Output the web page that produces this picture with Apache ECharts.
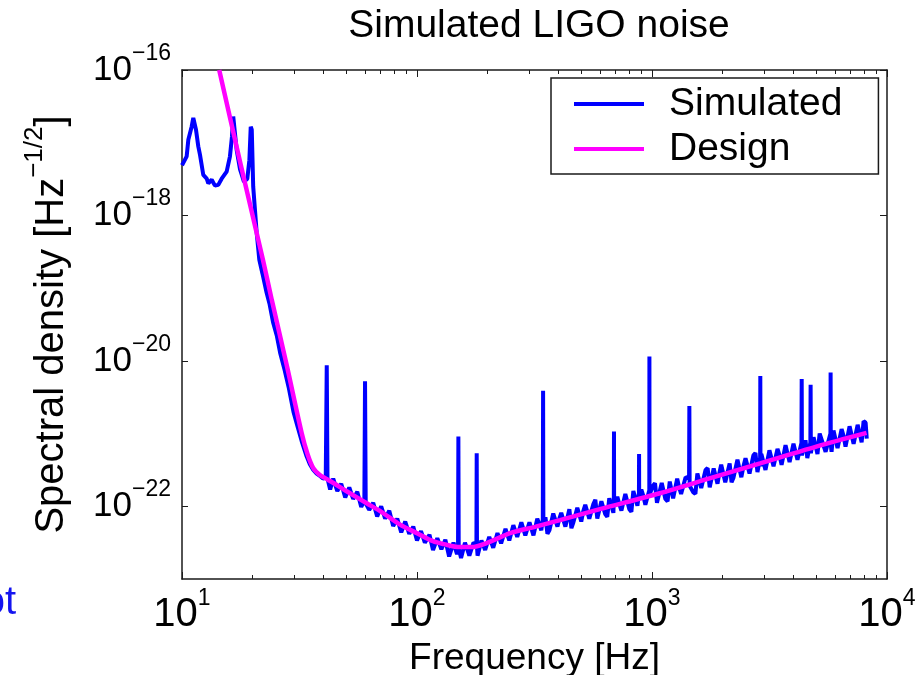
<!DOCTYPE html>
<html>
<head>
<meta charset="utf-8">
<title>Simulated LIGO noise</title>
<script src="https://cdn.jsdelivr.net/npm/echarts@6/dist/echarts.min.js"></script>
<style>
  html, body { margin: 0; padding: 0; background: #fff; }
  #chart { width: 921px; height: 675px; }
</style>
</head>
<body>
<div id="chart"></div>
<script>
// ---- data: [frequency Hz, amplitude Hz^-1/2] ----

// design sensitivity curve
var design = [
  [14.4, 1.0e-16], [17.8, 4.9e-18], [22.1, 2.45e-19], [24.1, 6.9e-20], [28.0, 8.3e-21], [32.3, 1.02e-21],
  [34.2, 5.25e-22], [36.2, 3.35e-22], [38.6, 2.69e-22], [41.0, 2.4e-22], [44.1, 2.09e-22], [50, 1.62e-22],
  [61.1, 1.10e-22], [70, 8.5e-23], [84.7, 5.6e-23], [100, 4.27e-23], [117, 3.31e-23], [130, 3.02e-23],
  [152, 2.75e-23], [170, 2.75e-23], [200, 3.16e-23], [249, 4.27e-23], [320, 5.25e-23], [406, 6.46e-23],
  [600, 9.12e-23], [1081, 1.51e-22], [1700, 2.34e-22], [2885, 3.89e-22], [5000, 6.61e-22], [8185, 1.02e-21]
];

// simulated noise: low end bumps, steep wall
var simulatedLow = [
  [10.0, 4.9e-18], [10.47, 6.5e-18], [10.64, 1.10e-17], [10.99, 1.66e-17], [11.17, 2.19e-17], [11.47, 1.51e-17],
  [11.73, 8.9e-18], [11.93, 6.8e-18], [12.32, 3.6e-18], [12.74, 3.2e-18], [12.94, 2.75e-18], [13.38, 3.1e-18],
  [13.81, 2.57e-18], [14.27, 2.63e-18], [14.75, 3.2e-18], [15.49, 4.0e-18], [16.00, 6.5e-18], [16.31, 1.20e-17],
  [16.52, 2.29e-17], [16.80, 2.19e-17], [17.09, 7.9e-18], [17.66, 4.3e-18], [18.36, 2.9e-18], [18.96, 3.2e-18],
  [19.35, 5.75e-18], [19.61, 1.66e-17], [19.81, 1.51e-17], [20.09, 2.5e-18], [20.79, 5.75e-19], [21.33, 2.45e-19],
  [22.0, 1.58e-19], [22.9, 8.7e-20], [23.6, 6.0e-20], [24.4, 3.4e-20], [25.3, 2.24e-20], [26.2, 1.26e-20],
  [27.3, 7.6e-21], [28.5, 4.2e-21], [29.8, 2.0e-21], [31.0, 1.26e-21], [32.3, 7.9e-22], [33.8, 5.0e-22],
  [35.0, 3.8e-22], [36.2, 3.16e-22], [37.4, 2.82e-22], [38.6, 2.63e-22], [39.8, 2.4e-22]
];

// simulated noise: floor with line spikes
var simulatedFloor = [
  [40.9, 2.5e-22], [41.3, 8.7e-21], [41.6, 2.4e-22], [42.7, 1.7e-22],
  [44, 2.40e-22], [45.8, 1.62e-22], [47.6, 2.04e-22], [49.5, 1.32e-22], [51.5, 1.82e-22], [53.5, 1.26e-22],
  [55.7, 1.58e-22], [57.9, 9.8e-23], [59.7, 1.20e-22], [60.1, 5.25e-21], [60.5, 1.10e-22], [62.6, 8.91e-23],
  [65.1, 1.12e-22], [67.7, 7.24e-23], [70.4, 1.00e-22], [73.2, 6.76e-23], [76.2, 8.71e-23], [79.2, 5.37e-23],
  [82.4, 6.76e-23], [85.7, 4.37e-23], [89.1, 6.17e-23], [92.7, 4.17e-23], [96.4, 5.25e-23], [100, 3.39e-23],
  [104, 4.57e-23], [108, 3.16e-23], [113, 4.07e-23], [117, 2.51e-23], [122, 3.63e-23], [127, 2.57e-23],
  [132, 3.47e-23], [137, 2.04e-23], [143, 3.16e-23], [148, 2.19e-23], [149.5, 2.88e-23], [150, 9.12e-22],
  [150.5, 2.63e-23], [154, 1.95e-23], [160, 3.16e-23], [167, 2.09e-23], [174, 3.16e-23], [179, 2.95e-23],
  [179.5, 5.37e-22], [180, 2.82e-23], [181, 2.09e-23], [188, 3.39e-23], [195, 2.51e-23], [203, 3.80e-23],
  [211, 2.69e-23], [220, 4.27e-23], [228, 3.09e-23], [238, 4.90e-23], [247, 3.39e-23], [257, 5.50e-23],
  [267, 3.80e-23], [278, 6.03e-23], [289, 3.98e-23], [301, 6.03e-23], [313, 3.98e-23], [325, 6.76e-23],
  [338, 4.68e-23], [343, 6.61e-23], [344, 3.89e-21], [345, 5.62e-23], [352, 7.08e-23], [359, 4.2e-23],
  [366, 4.68e-23], [380, 7.94e-23], [396, 5.25e-23], [403, 6.7e-23], [411, 8.13e-23], [428, 5.25e-23],
  [445, 9.12e-23], [454, 5.0e-23], [463, 6.03e-23], [481, 9.55e-23], [500, 6.17e-23], [510, 8.6e-23],
  [520, 1.05e-22], [541, 6.76e-23], [563, 1.07e-22], [574, 1.23e-22], [585, 6.76e-23], [609, 1.17e-22],
  [633, 7.76e-23], [645, 7.2e-23], [658, 1.29e-22], [685, 8.13e-23], [688, 1.26e-22], [689, 1.07e-21],
  [690, 1.05e-22], [712, 1.35e-22], [726, 1.07e-22], [741, 8.71e-23], [770, 1.48e-22], [801, 9.12e-23],
  [817, 8.4e-23], [833, 1.62e-22], [867, 1.02e-22], [880, 1.51e-22], [881, 5.25e-22], [882, 1.32e-22],
  [901, 1.70e-22], [919, 1.38e-22], [937, 1.05e-22], [974, 1.66e-22], [975, 1.15e-20], [976, 1.45e-22],
  [1010, 1.91e-22], [1030, 2.07e-22], [1050, 1.12e-22], [1100, 2.09e-22], [1140, 1.26e-22], [1165, 1.17e-22],
  [1190, 2.19e-22], [1230, 1.29e-22], [1280, 2.40e-22], [1305, 1.82e-22], [1330, 1.48e-22], [1390, 2.51e-22],
  [1438, 2.40e-22], [1442, 2.40e-21], [1446, 1.91e-22], [1500, 1.55e-22], [1530, 1.48e-22], [1560, 2.82e-22],
  [1620, 1.78e-22], [1690, 3.16e-22], [1725, 3.35e-22], [1760, 1.82e-22], [1830, 3.31e-22], [1900, 2.04e-22],
  [1935, 2.88e-22], [1970, 3.72e-22], [2050, 2.14e-22], [2140, 3.89e-22], [2180, 2.14e-22], [2220, 2.45e-22],
  [2310, 4.37e-22], [2400, 2.51e-22], [2450, 3.55e-22], [2500, 4.57e-22], [2600, 2.82e-22], [2700, 5.01e-22],
  [2755, 5.4e-22], [2810, 2.95e-22], [2885, 4.68e-22], [2890, 6.17e-21], [2895, 3.55e-22], [2920, 5.25e-22],
  [3040, 3.16e-22], [3100, 3.0e-22], [3160, 5.89e-22], [3290, 3.55e-22], [3420, 6.17e-22], [3490, 5.0e-22],
  [3560, 3.72e-22], [3700, 6.92e-22], [3850, 4.07e-22], [3925, 3.9e-22], [4000, 7.24e-22], [4160, 4.37e-22],
  [4325, 7.41e-22], [4335, 5.62e-21], [4345, 5.01e-22], [4500, 8.13e-22], [4580, 4.6e-22], [4720, 7.59e-22],
  [4731, 4.68e-21], [4742, 5.37e-22], [4870, 8.91e-22], [5060, 5.25e-22], [5170, 1.0e-21], [5270, 9.55e-22],
  [5480, 5.62e-22], [5745, 1.00e-21], [5755, 6.92e-21], [5765, 7.08e-22], [5810, 5.6e-22], [5920, 1.10e-21],
  [6160, 6.31e-22], [6410, 1.15e-21], [6540, 9.2e-22], [6660, 6.61e-22], [6930, 1.26e-21], [7210, 7.24e-22],
  [7350, 6.9e-22], [7500, 1.32e-21], [7800, 7.59e-22], [7950, 1.48e-21], [8110, 1.41e-21], [8200, 8.51e-22]
];

// axis ticks (decade exponents) and minor tick frequencies
var freqDecades = [1, 2, 3, 4];
var asdLabelDecades = [-22, -20, -18, -16];
var minorTickFreqs = [20, 30, 40, 50, 60, 70, 80, 90, 200, 300, 400, 500, 600, 700, 800, 900,
  2000, 3000, 4000, 5000, 6000, 7000, 8000, 9000];

var FONT = 'Liberation Sans';

//////////// 차트 구성 ////////////
showNoiseChart();

function toLogPairs(points) {
	return points.map(function (p) { return [Math.log10(p[0]), Math.log10(p[1])]; });
}

function showNoiseChart() {
	var chart = echarts.init(document.getElementById('chart'));

	var minorTicks = minorTickFreqs.map(function (f) { return Math.log10(f); });
	var xMin = freqDecades[0], xMax = freqDecades[freqDecades.length - 1];

	var axisLine = { show: true, onZero: false, lineStyle: { color: '#1a1a1a', width: 1.5 } };
	var tickStyle = { color: '#1a1a1a', width: 1 };

	var xRich = {
		b: { fontSize: 40, fontFamily: FONT, color: '#000', lineHeight: 56 },
		e: { fontSize: 23, fontFamily: FONT, color: '#000', lineHeight: 16, verticalAlign: 'top' }
	};
	var yRich = {
		b: { fontSize: 35, fontFamily: FONT, color: '#000', lineHeight: 56 },
		e: { fontSize: 23, fontFamily: FONT, color: '#000', lineHeight: 20, verticalAlign: 'top' }
	};

	var option = {
		animation: false,
		backgroundColor: '#fff',
		title: {
			text: 'Simulated LIGO noise',
			left: 534,
			textAlign: 'center',
			top: 2,
			textStyle: { fontSize: 39, fontWeight: 'normal', fontFamily: FONT, color: '#000' }
		},
		legend: {
			data: ['Simulated', 'Design'],
			orient: 'vertical',
			left: 551,
			top: 78,
			icon: 'rect',
			itemWidth: 70,
			itemHeight: 4,
			itemGap: 5,
			padding: [6, 36, 5, 23],
			selectedMode: false,
			backgroundColor: '#fff',
			borderColor: '#1a1a1a',
			borderWidth: 1.5,
			borderRadius: 0,
			textStyle: { fontSize: 39, fontFamily: FONT, color: '#000', lineHeight: 40, padding: [0, 0, 0, 20] }
		},
		grid: { left: 182, top: 70, width: 705, height: 509, outerBoundsMode: 'none' },
		xAxis: [
			{
				type: 'value', position: 'bottom', min: xMin, max: xMax, interval: 1,
				axisLine: axisLine,
				axisTick: { inside: true, length: 7, lineStyle: tickStyle },
				splitLine: { show: false },
				axisLabel: {
					margin: 8,
					formatter: function (v) { return '{b|10}{e|' + v + '}'; },
					rich: xRich
				},
				name: 'Frequency [Hz]',
				nameLocation: 'middle',
				nameGap: 58,
				nameTextStyle: { fontSize: 37, fontFamily: FONT, color: '#000' }
			},
			{
				type: 'value', position: 'bottom', min: xMin, max: xMax,
				axisLine: { show: false },
				axisTick: { inside: true, length: 4, lineStyle: tickStyle, customValues: minorTicks },
				axisLabel: { show: false },
				splitLine: { show: false }
			},
			{
				type: 'value', position: 'top', min: xMin, max: xMax, interval: 1,
				axisLine: axisLine,
				axisTick: { inside: true, length: 7, lineStyle: tickStyle },
				axisLabel: { show: false },
				splitLine: { show: false }
			},
			{
				type: 'value', position: 'top', min: xMin, max: xMax,
				axisLine: { show: false },
				axisTick: { inside: true, length: 4, lineStyle: tickStyle, customValues: minorTicks },
				axisLabel: { show: false },
				splitLine: { show: false }
			}
		],
		yAxis: [
			{
				type: 'value', position: 'left', min: -23, max: -16,
				axisLine: axisLine,
				axisTick: { inside: true, length: 6, lineStyle: tickStyle, customValues: asdLabelDecades },
				splitLine: { show: false },
				axisLabel: {
					margin: 11,
					customValues: asdLabelDecades,
					formatter: function (v) { return '{b|10}{e|\u2212' + Math.abs(v) + '}'; },
					rich: yRich
				},
				name: '{a|Spectral density [Hz}{s|\u22121/2}{a|]}',
				nameLocation: 'middle',
				nameGap: 100,
				nameTextStyle: {
					rich: {
						a: { fontSize: 40, fontFamily: FONT, color: '#000', lineHeight: 60 },
						s: { fontSize: 26, fontFamily: FONT, color: '#000', lineHeight: 26, verticalAlign: 'top' }
					}
				}
			},
			{
				type: 'value', position: 'right', min: -23, max: -16,
				axisLine: axisLine,
				axisTick: { inside: true, length: 7, lineStyle: tickStyle, customValues: asdLabelDecades },
				axisLabel: { show: false },
				splitLine: { show: false }
			}
		],
		graphic: [{
			type: 'text',
			style: { text: 'ot', x: 16, y: 623, align: 'right', verticalAlign: 'bottom', fontSize: 40, fontFamily: FONT, fill: '#1414f0' }
		}],
		series: [
			{
				name: 'Simulated', type: 'line', xAxisIndex: 0, yAxisIndex: 0,
				data: toLogPairs(simulatedLow.concat(simulatedFloor)),
				symbol: 'none', showSymbol: false,
				lineStyle: { color: '#0000ff', width: 4 },
				itemStyle: { color: '#0000ff' }
			},
			{
				name: 'Design', type: 'line', xAxisIndex: 0, yAxisIndex: 0,
				data: toLogPairs(design),
				symbol: 'none', showSymbol: false, smooth: 0.3,
				lineStyle: { color: '#ff00ff', width: 4.5 },
				itemStyle: { color: '#ff00ff' }
			}
		]
	};

	chart.setOption(option);
}
</script>
</body>
</html>
